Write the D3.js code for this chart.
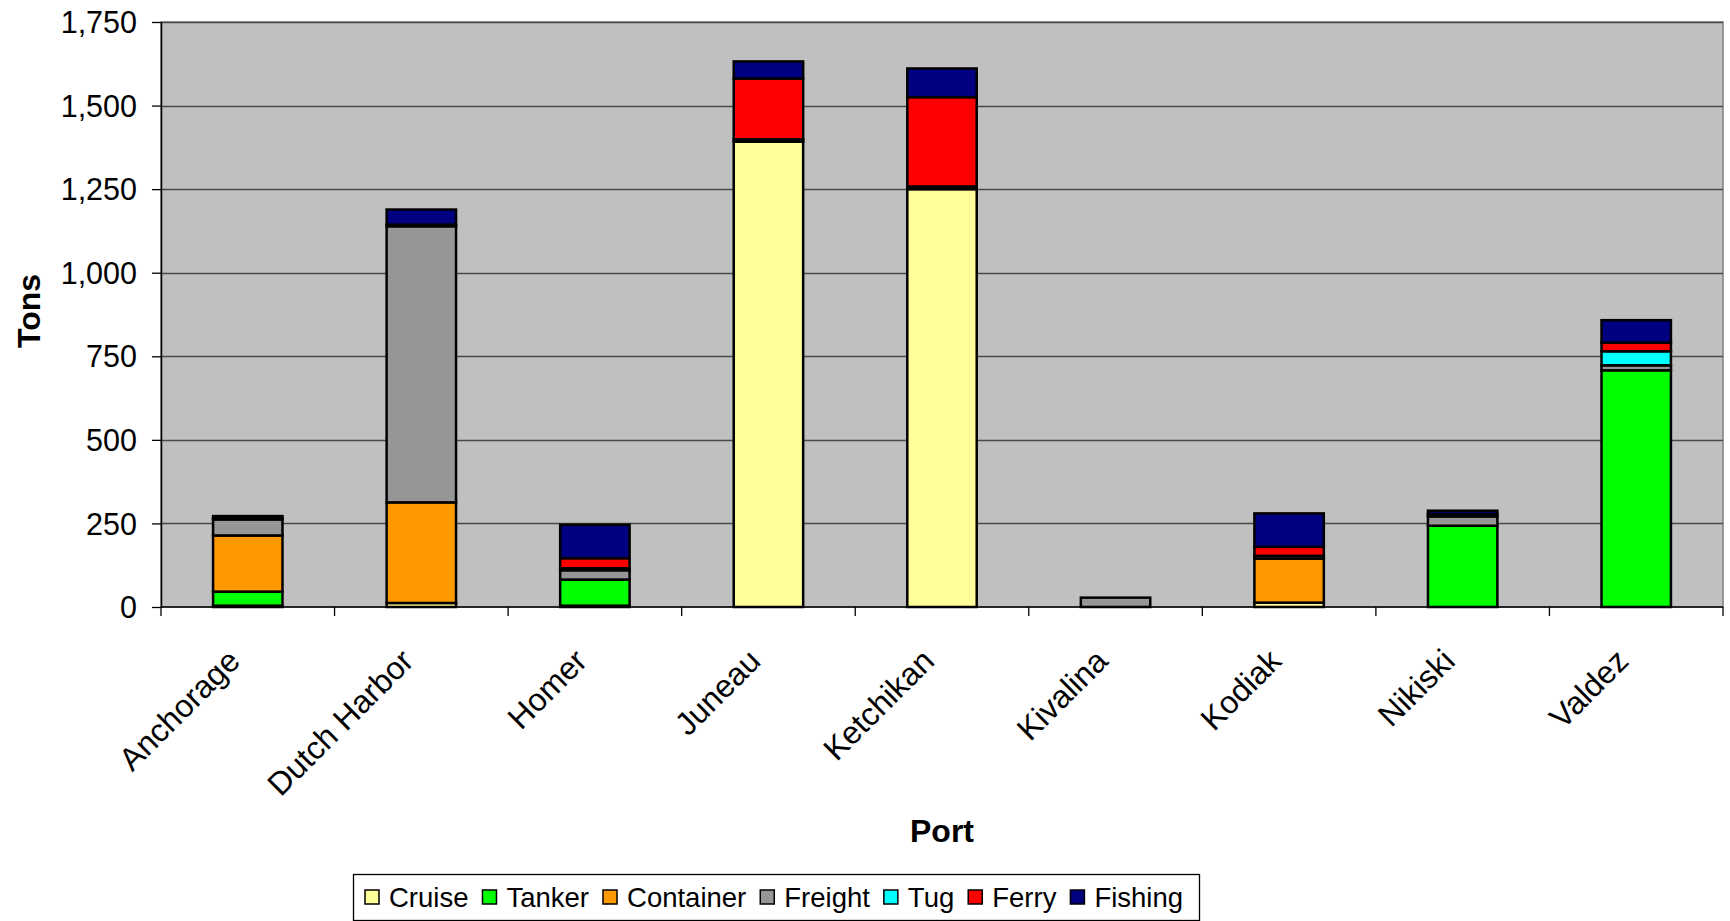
<!DOCTYPE html>
<html>
<head>
<meta charset="utf-8">
<script src="https://cdn.jsdelivr.net/npm/d3@7"></script>
<style>
  html, body { margin: 0; padding: 0; background: #ffffff; }
  svg { display: block; font-family: "Liberation Sans", Arial, sans-serif; }
</style>
</head>
<body>
<svg id="chart" width="1730" height="921"></svg>
<script>
// ---- Data ----
const ports = ["Anchorage", "Dutch Harbor", "Homer", "Juneau", "Ketchikan", "Kivalina", "Kodiak", "Nikiski", "Valdez"];
const seriesNames = ["Cruise", "Tanker", "Container", "Freight", "Tug", "Ferry", "Fishing"];
const cruise    = [4, 12, 4, 1392, 1250, 0, 13, 0, 0];
const tanker    = [42, 0, 78, 0, 0, 0, 0, 243, 708];
const container = [168, 301, 0, 0, 0, 0, 132, 0, 0];
const freight   = [48, 826, 28, 7, 8, 28, 8, 28, 15];
const tug       = [0, 0, 6, 0, 0, 0, 0, 0, 42];
const ferry     = [3, 5, 30, 182, 267, 0, 27, 7, 26];
const fishing   = [7, 45, 100, 51, 86, 0, 100, 10, 67];
const yTicks    = [0, 250, 500, 750, 1000, 1250, 1500, 1750];
const colors    = ["#FFFF99", "#00FF00", "#FF9900", "#969696", "#00FFFF", "#FF0000", "#000080"];

const seriesValues = [cruise, tanker, container, freight, tug, ferry, fishing];
const table = ports.map((p, i) => {
  const row = { port: p };
  seriesNames.forEach((s, j) => { row[s] = seriesValues[j][i]; });
  return row;
});

// ---- Layout ----
const svg = d3.select("#chart");
const plot = { left: 161, right: 1723, top: 22, bottom: 607 };

const x = d3.scaleBand().domain(ports).range([plot.left, plot.right]).paddingInner(0).paddingOuter(0);
const y = d3.scaleLinear().domain([0, 1750]).range([plot.bottom, plot.top]);

// plot background
svg.append("rect")
  .attr("x", plot.left).attr("y", plot.top)
  .attr("width", plot.right - plot.left).attr("height", plot.bottom - plot.top)
  .attr("fill", "#C0C0C0").attr("stroke", "#808080").attr("stroke-width", 1.5);

// gridlines
svg.append("g").selectAll("line")
  .data(yTicks.filter(d => d > 0))
  .join("line")
  .attr("x1", plot.left).attr("x2", plot.right)
  .attr("y1", d => Math.round(y(d)) + 0.5).attr("y2", d => Math.round(y(d)) + 0.5)
  .attr("stroke", "#4a4a4a").attr("stroke-width", 1.3);

// stacked bars
const stack = d3.stack().keys(seriesNames);
const layers = stack(table);
const barW = x.bandwidth() * 0.4;
const gBars = svg.append("g");
layers.forEach((layer, j) => {
  gBars.append("g").selectAll("rect")
    .data(layer.filter(d => d[1] - d[0] > 0))
    .join("rect")
    .attr("x", d => x(d.data.port) + (x.bandwidth() - barW) / 2)
    .attr("width", barW)
    .attr("y", d => y(d[1]))
    .attr("height", d => y(d[0]) - y(d[1]))
    .attr("fill", colors[j])
    .attr("stroke", "#000")
    .attr("stroke-width", 2.5);
});

// Y axis
const yAxis = d3.axisLeft(y).tickValues(yTicks).tickSize(9).tickSizeOuter(0)
  .tickFormat(d3.format(","));
const gy = svg.append("g").attr("transform", `translate(${plot.left},0)`).call(yAxis);
gy.select(".domain").attr("stroke", "#000").attr("stroke-width", 1.5);
gy.selectAll(".tick line").attr("stroke", "#000").attr("stroke-width", 1.3);
gy.selectAll(".tick text")
  .attr("x", -24).attr("dy", "0.35em")
  .attr("font-size", 30.5).attr("fill", "#000")
  .attr("font-family", "'Liberation Sans', Arial, sans-serif");

// X axis
const xAxisG = svg.append("g");
xAxisG.append("line")
  .attr("x1", plot.left).attr("x2", plot.right)
  .attr("y1", plot.bottom).attr("y2", plot.bottom)
  .attr("stroke", "#000").attr("stroke-width", 1.5);
const boundaries = ports.map(p => x(p)).concat([x(ports[ports.length - 1]) + x.bandwidth()]);
xAxisG.selectAll("line.tk").data(boundaries).join("line").attr("class", "tk")
  .attr("x1", d => d).attr("x2", d => d)
  .attr("y1", plot.bottom).attr("y2", plot.bottom + 9)
  .attr("stroke", "#000").attr("stroke-width", 1.3);
xAxisG.selectAll("text").data(ports).join("text")
  .attr("transform", d => `translate(${x(d) + x.bandwidth() / 2 - 6},${plot.bottom + 56}) rotate(-45)`)
  .attr("text-anchor", "end")
  .attr("font-size", 32)
  .attr("fill", "#000")
  .text(d => d);

// Axis titles
svg.append("text")
  .attr("transform", `translate(${40},${311}) rotate(-90)`)
  .attr("text-anchor", "middle")
  .attr("font-size", 32).attr("font-weight", "bold")
  .text("Tons");
svg.append("text")
  .attr("x", (plot.left + plot.right) / 2).attr("y", 842)
  .attr("text-anchor", "middle")
  .attr("font-size", 32).attr("font-weight", "bold")
  .text("Port");

// Legend
const lg = svg.append("g");
lg.append("rect")
  .attr("x", 353.5).attr("y", 874.5).attr("width", 846).attr("height", 46)
  .attr("fill", "#fff").attr("stroke", "#000").attr("stroke-width", 1.3);
let lx = 365;
const ly = 897;
seriesNames.forEach((s, j) => {
  lg.append("rect")
    .attr("x", lx).attr("y", ly - 7).attr("width", 14).attr("height", 14)
    .attr("fill", colors[j]).attr("stroke", "#000").attr("stroke-width", 1.5);
  const t = lg.append("text")
    .attr("x", lx + 24).attr("y", ly).attr("dy", "0.35em")
    .attr("font-size", 27.5).attr("fill", "#000")
    .text(s);
  lx = lx + 24 + t.node().getComputedTextLength() + 14;
});
</script>
</body>
</html>
